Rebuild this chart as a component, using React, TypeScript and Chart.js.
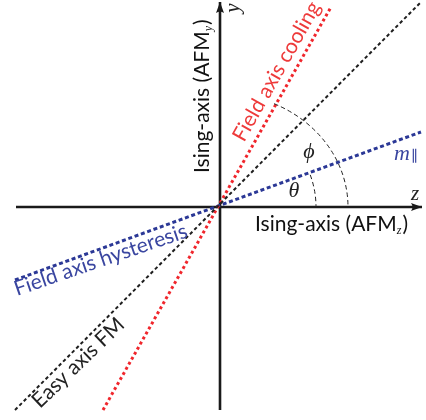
import React, { useEffect, useRef } from "react";
import { Chart, registerables } from "chart.js";

Chart.register(...registerables);

// ---- axis ranges (diagram units, origin at the crossing of the Ising axes)
const X_RANGE = [-1.1, 1.03];
const Y_RANGE = [-1.065, 1.035];

// ---- straight lines: endpoints in diagram units
const zAxisX = [-1.02, 1.01];
const zAxisY = [0, 0];
const yAxisX = [0, 0];
const yAxisY = [-1.015, 1.025];
const easyAxisX = [-1.025, 1.005];
const easyAxisY = [-1.015, 1.025];
const coolingX = [-0.585, 0.555];
const coolingY = [-1.015, 1.0];
const hysteresisX = [-1.025, 1.005];
const hysteresisY = [-0.365, 0.375];

// ---- angle arcs: radii (x, y) in diagram units and angle span in degrees
const thetaArcRadius = [0.48, 0.47];
const thetaArcSpan = [0, 20];
const phiArcRadius = [0.64, 0.57];
const phiArcSpan = [0, 65];

const pts = (xs: number[], ys: number[]) => xs.map((x, i) => ({ x, y: ys[i] }));

const SANS = "Lato, 'Noto Sans', sans-serif";
const SERIF = "'Liberation Serif', 'DejaVu Serif', serif";

type Seg = { t: string; font: string; dy?: number; dx?: number };
type Label = { x: number; y: number; rot: number; color: string; align?: CanvasTextAlign; base?: CanvasTextBaseline; segs: Seg[] };

const LABELS: Label[] = [
  {
    x: -0.055, y: 0.17, rot: -90, color: "#111",
    segs: [
      { t: "Ising-axis (AFM", font: `21px ${SANS}` },
      { t: "y", font: `italic 12px ${SERIF}`, dy: 3 },
      { t: ")", font: `21px ${SANS}`, dx: 1 },
    ],
  },
  {
    x: 0.175, y: -0.12, rot: 0, color: "#111",
    segs: [
      { t: "Ising-axis (AFM", font: `21px ${SANS}` },
      { t: "z", font: `italic 12px ${SERIF}`, dy: 3 },
      { t: ")", font: `21px ${SANS}`, dx: 1 },
    ],
  },
  { x: 0.12, y: 0.32, rot: -60.5, color: "#ee3a3a", segs: [{ t: "Field axis cooling", font: `21px ${SANS}` }] },
  { x: -1.015, y: -0.445, rot: -19, color: "#3a46a0", segs: [{ t: "Field axis hysteresis", font: `21px ${SANS}` }] },
  { x: -0.9, y: -1.01, rot: -44, color: "#222", segs: [{ t: "Easy axis FM", font: `21px ${SANS}` }] },
  {
    x: 0.87, y: 0.235, rot: 0, color: "#3a46a0",
    segs: [
      { t: "m", font: `italic 22px ${SERIF}` },
      { t: "∥", font: `italic 15px ${SERIF}`, dy: 1, dx: 1 },
    ],
  },
  { x: 0.445, y: 0.275, rot: 0, color: "#222", align: "center", base: "middle", segs: [{ t: "ϕ", font: `italic 22px ${SERIF}` }] },
  { x: 0.37, y: 0.08, rot: 0, color: "#222", align: "center", base: "middle", segs: [{ t: "θ", font: `italic 22px ${SERIF}` }] },
  { x: 0.975, y: 0.065, rot: 0, color: "#222", align: "center", base: "middle", segs: [{ t: "z", font: `italic 21px ${SERIF}` }] },
  { x: 0.065, y: 0.995, rot: -90, color: "#222", align: "center", base: "middle", segs: [{ t: "y", font: `italic 21px ${SERIF}` }] },
];

const decorPlugin = {
  id: "decor",
  afterDatasetsDraw(chart: any) {
    const { ctx } = chart;
    const sx = chart.scales.x;
    const sy = chart.scales.y;
    const px = (v: number) => sx.getPixelForValue(v);
    const py = (v: number) => sy.getPixelForValue(v);
    const ox = px(0);
    const oy = py(0);

    // arcs
    ctx.save();
    ctx.strokeStyle = "#222";
    ctx.lineWidth = 1;
    ctx.setLineDash([4.5, 3]);
    const arcs = [
      [thetaArcRadius, thetaArcSpan],
      [phiArcRadius, phiArcSpan],
    ];
    for (const [r, span] of arcs) {
      const rx = Math.abs(px(r[0]) - ox);
      const ry = Math.abs(py(r[1]) - oy);
      ctx.beginPath();
      ctx.ellipse(ox, oy, rx, ry, 0, (-span[1] * Math.PI) / 180, (-span[0] * Math.PI) / 180);
      ctx.stroke();
    }
    ctx.restore();

    // arrow heads
    ctx.save();
    ctx.fillStyle = "#1a1a1a";
    const tipX = px(zAxisX[1]);
    const tipY = py(yAxisY[1]);
    ctx.beginPath();
    ctx.moveTo(tipX, oy);
    ctx.lineTo(tipX - 11, oy - 4);
    ctx.quadraticCurveTo(tipX - 8, oy, tipX - 11, oy + 4);
    ctx.closePath();
    ctx.fill();
    ctx.beginPath();
    ctx.moveTo(ox, tipY);
    ctx.lineTo(ox - 4, tipY + 11);
    ctx.quadraticCurveTo(ox, tipY + 8, ox + 4, tipY + 11);
    ctx.closePath();
    ctx.fill();
    ctx.restore();

    // labels
    for (const L of LABELS) {
      ctx.save();
      ctx.translate(px(L.x), py(L.y));
      ctx.rotate((L.rot * Math.PI) / 180);
      ctx.fillStyle = L.color;
      ctx.textBaseline = L.base || "alphabetic";
      let total = 0;
      for (const s of L.segs) {
        ctx.font = s.font;
        total += ctx.measureText(s.t).width + (s.dx || 0);
      }
      let cx = L.align === "center" ? -total / 2 : 0;
      ctx.textAlign = "left";
      for (const s of L.segs) {
        ctx.font = s.font;
        cx += s.dx || 0;
        ctx.fillText(s.t, cx, s.dy || 0);
        cx += ctx.measureText(s.t).width;
      }
      ctx.restore();
    }
  },
};

export default function App() {
  const ref = useRef<HTMLCanvasElement | null>(null);
  useEffect(() => {
    if (!ref.current) return;
    const line = (data: any, color: string, width: number, dash: number[]) => ({
      data,
      showLine: true,
      borderColor: color,
      backgroundColor: color,
      borderWidth: width,
      borderDash: dash,
      borderCapStyle: "butt",
      pointRadius: 0,
      pointHoverRadius: 0,
      fill: false,
    });
    const chart = new Chart(ref.current, {
      type: "scatter",
      data: {
        datasets: [
          line(pts(easyAxisX, easyAxisY), "#1f1f1f", 2, [3.5, 2.7]),
          line(pts(coolingX, coolingY), "#f0262c", 3, [2.9, 2.9]),
          line(pts(hysteresisX, hysteresisY), "#2b3896", 3, [4, 2.7]),
          line(pts(zAxisX, zAxisY), "#1a1a1a", 2.6, []),
          line(pts(yAxisX, yAxisY), "#1a1a1a", 2.6, []),
        ] as any,
      },
      options: {
        animation: false,
        responsive: false,
        devicePixelRatio: 1,
        layout: { padding: 0 },
        plugins: { legend: { display: false }, tooltip: { enabled: false } },
        events: [],
        scales: {
          x: { type: "linear", display: false, min: X_RANGE[0], max: X_RANGE[1] },
          y: { type: "linear", display: false, min: Y_RANGE[0], max: Y_RANGE[1] },
        },
      } as any,
      plugins: [decorPlugin],
    });
    return () => chart.destroy();
  }, []);
  return (
    <div style={{ position: "absolute", left: 0, top: 0, width: 426, height: 420, background: "#fff" }}>
      <canvas ref={ref} width={426} height={420} />
    </div>
  );
}
